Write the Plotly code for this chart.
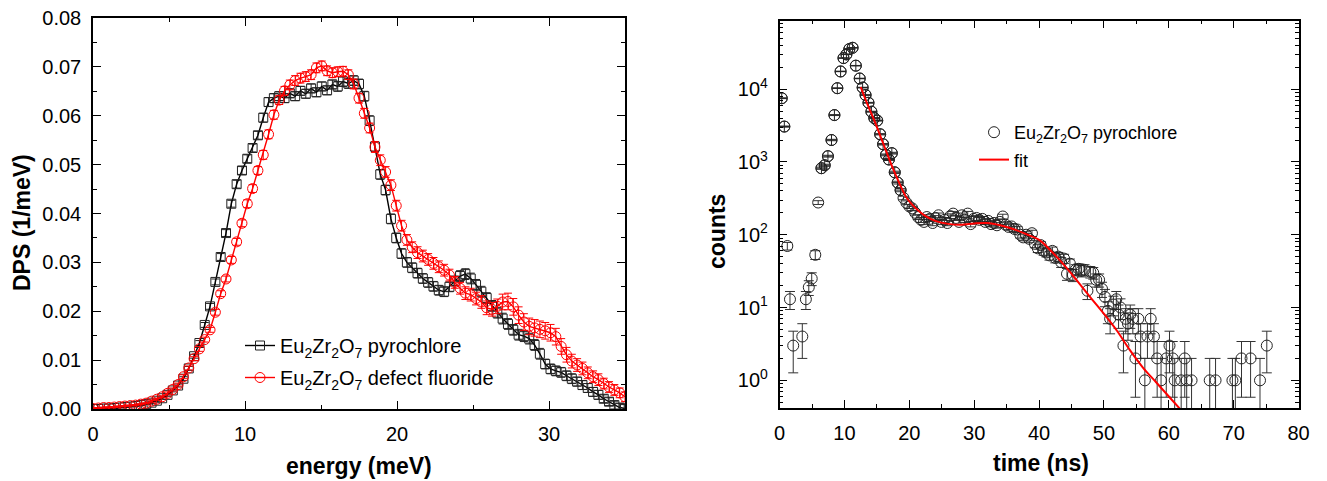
import numpy as np
import plotly.graph_objects as go

# ---------------- Left panel data: DPS vs energy ----------------
energy = [0.0,0.35,0.7,1.05,1.4,1.75,2.1,2.45,2.8,3.15,3.5,3.85,4.2,4.55,4.9,5.25,5.6,5.95,6.3,6.65,
          7.0,7.35,7.7,8.05,8.4,8.75,9.1,9.45,9.8,10.15,10.5,10.85,11.2,11.55,11.9,12.25,12.6,12.95,13.3,13.65,
          14.0,14.35,14.7,15.05,15.4,15.75,16.1,16.45,16.8,17.15,17.5,17.85,18.2,18.55,18.9,19.25,19.6,19.95,20.3,20.65,
          21.0,21.35,21.7,22.05,22.4,22.75,23.1,23.45,23.8,24.15,24.5,24.85,25.2,25.55,25.9,26.25,26.6,26.95,27.3,27.65,
          28.0,28.35,28.7,29.05,29.4,29.75,30.1,30.45,30.8,31.15,31.5,31.85,32.2,32.55,32.9,33.25,33.6,33.95,34.3,34.65,35.0]

dps_pyrochlore = [0.0000,0.0000,0.0001,0.0001,0.0002,0.0003,0.0004,0.0005,0.0006,0.0008,
                  0.0010,0.0013,0.0017,0.0022,0.0029,0.0038,0.0048,0.0062,0.0083,0.0108,
                  0.0135,0.0172,0.0210,0.0260,0.0311,0.0360,0.0420,0.0460,0.0488,0.0512,
                  0.0534,0.0560,0.0596,0.0628,0.0636,0.0640,0.0636,0.0646,0.0640,0.0651,
                  0.0645,0.0656,0.0648,0.0660,0.0652,0.0664,0.0660,0.0670,0.0666,0.0672,
                  0.0665,0.0640,0.0590,0.0537,0.0480,0.0448,0.0389,0.0350,0.0318,0.0300,
                  0.0289,0.0278,0.0267,0.0259,0.0251,0.0243,0.0240,0.0250,0.0262,0.0272,
                  0.0276,0.0267,0.0254,0.0240,0.0227,0.0211,0.0197,0.0185,0.0174,0.0162,
                  0.0152,0.0149,0.0144,0.0131,0.0113,0.0092,0.0082,0.0078,0.0075,0.0068,
                  0.0062,0.0056,0.0049,0.0043,0.0035,0.0029,0.0021,0.0015,0.0008,0.0003,0.0001]

err_pyrochlore = [0.0001,0.0001,0.0001,0.0001,0.0001,0.0001,0.0001,0.0001,0.0001,0.0001,
                  0.0001,0.0002,0.0002,0.0002,0.0003,0.0003,0.0003,0.0004,0.0004,0.0004,
                  0.0005,0.0005,0.0006,0.0006,0.0007,0.0007,0.0007,0.0008,0.0008,0.0008,
                  0.0008,0.0008,0.0009,0.0009,0.0009,0.0009,0.0009,0.0009,0.0009,0.0009,
                  0.0009,0.0009,0.0009,0.0009,0.0009,0.0009,0.0010,0.0010,0.0010,0.0010,
                  0.0010,0.0010,0.0010,0.0010,0.0010,0.0010,0.0010,0.0010,0.0010,0.0010,
                  0.0010,0.0010,0.0010,0.0010,0.0010,0.0010,0.0010,0.0010,0.0010,0.0011,
                  0.0011,0.0011,0.0011,0.0011,0.0011,0.0011,0.0011,0.0011,0.0011,0.0011,
                  0.0011,0.0011,0.0011,0.0011,0.0011,0.0010,0.0010,0.0010,0.0010,0.0010,
                  0.0010,0.0009,0.0009,0.0009,0.0009,0.0009,0.0008,0.0008,0.0008,0.0008,0.0008]

dps_fluoride = [0.0001,0.0002,0.0003,0.0003,0.0004,0.0005,0.0006,0.0007,0.0008,0.0010,
                0.0012,0.0016,0.0020,0.0025,0.0032,0.0040,0.0050,0.0066,0.0084,0.0103,
                0.0123,0.0142,0.0162,0.0198,0.0236,0.0266,0.0305,0.0342,0.0380,0.0420,
                0.0451,0.0488,0.0520,0.0562,0.0602,0.0632,0.0651,0.0663,0.0672,0.0677,
                0.0680,0.0684,0.0698,0.0702,0.0692,0.0688,0.0690,0.0691,0.0684,0.0665,
                0.0636,0.0605,0.0575,0.0536,0.0509,0.0485,0.0458,0.0416,0.0375,0.0346,
                0.0331,0.0320,0.0313,0.0306,0.0298,0.0291,0.0284,0.0274,0.0259,0.0247,
                0.0237,0.0234,0.0226,0.0219,0.0207,0.0204,0.0210,0.0219,0.0220,0.0209,
                0.0192,0.0178,0.0169,0.0166,0.0163,0.0160,0.0156,0.0148,0.0128,0.0111,
                0.0098,0.0090,0.0083,0.0074,0.0066,0.0060,0.0052,0.0045,0.0039,0.0033,0.0025]

err_fluoride = [0.0001,0.0001,0.0001,0.0001,0.0001,0.0001,0.0001,0.0001,0.0001,0.0001,
                0.0001,0.0002,0.0002,0.0002,0.0003,0.0003,0.0003,0.0004,0.0004,0.0004,
                0.0005,0.0005,0.0005,0.0006,0.0006,0.0006,0.0007,0.0007,0.0007,0.0008,
                0.0008,0.0008,0.0009,0.0009,0.0009,0.0009,0.0009,0.0010,0.0010,0.0010,
                0.0010,0.0010,0.0010,0.0010,0.0010,0.0010,0.0010,0.0010,0.0010,0.0010,
                0.0010,0.0010,0.0010,0.0011,0.0011,0.0011,0.0011,0.0011,0.0011,0.0011,
                0.0011,0.0012,0.0012,0.0012,0.0012,0.0012,0.0012,0.0012,0.0012,0.0012,
                0.0013,0.0013,0.0013,0.0013,0.0014,0.0014,0.0015,0.0016,0.0017,0.0017,
                0.0017,0.0017,0.0017,0.0017,0.0017,0.0017,0.0017,0.0017,0.0016,0.0015,
                0.0014,0.0013,0.0013,0.0012,0.0012,0.0012,0.0011,0.0011,0.0011,0.0010,0.0010]

# ---------------- Right panel data: counts vs time ----------------
time_ns = [0.33,0.73,1.19,1.60,2.10,3.50,4.05,4.50,4.95,5.50,5.95,6.45,6.95,7.45,8.00,8.45,8.90,9.40,9.85,10.30,
           10.75,11.25,11.75,12.35,12.80,13.25,13.70,14.15,14.60,15.05,15.50,15.95,16.40,16.85,17.30,17.75,18.20,18.65,19.10,19.55,
           20.00,20.45,20.90,21.35,21.80,22.25,22.70,23.15,23.60,24.05,24.50,24.95,25.40,25.85,26.30,26.75,27.20,27.65,28.10,28.55,
           29.00,29.45,29.90,30.35,30.80,31.25,31.70,32.15,32.60,33.05,33.50,33.95,34.40,34.85,35.30,35.75,36.20,36.65,37.10,37.55,
           38.00,38.45,38.90,39.35,39.80,40.25,40.70,41.15,41.60,42.05,42.50,42.95,43.40,43.85,44.30,44.75,45.20,45.65,46.10,46.55,
           47.00,47.45,47.90,48.35,48.80,49.25,49.70,50.15,50.60,50.95,51.45,51.90,52.25,52.55,53.00,53.35,53.70,54.05,54.45,54.85,
           55.30,55.65,56.30,56.70,57.20,57.70,58.20,58.80,59.60,60.10,60.60,60.90,61.90,62.45,62.75,63.50,66.30,67.20,69.80,70.25,
           71.20,72.60,74.05,75.10]

counts = [7500,3060,70,13,3,4,13,19,25,53,277,820,900,1200,2000,4400,10300,17500,26700,30000,
          35500,37000,21000,14000,10500,8300,6500,4900,4000,3700,2400,1750,1250,1080,1320,720,520,410,320,275,
          245,230,200,175,160,150,175,165,145,170,185,150,160,145,180,195,170,150,185,160,
          195,140,165,170,160,165,150,155,140,145,135,150,178,137,128,130,120,118,100,92,
          100,88,105,75,65,72,60,57,52,60,48,50,42,47,29,40,28,33,34,32,
          33,17,31,30,24,24,18,14,9,7,11,13,8,10,3,7,6,8,7,2,
          7,4,1,4,7,4,2,1,2,3,2,1,1,2,1,1,1,1,1,1,
          2,2,1,3]

fit_time = [12.5,13.5,14.5,15.5,16.5,17.5,18.5,19.5,20.5,21.5,22.5,24.0,26.0,28.0,30.0,32.0,34.0,36.0,
            38.0,40.0,42.0,44.0,46.0,48.0,50.0,52.0,54.0,56.0,58.0,60.0,62.0]
fit_counts = [10700,6300,3900,2300,1350,800,500,330,255,210,180,155,141,137,143,145,135,120,
              102,85,58,37,22.5,13.5,8.2,4.8,2.6,1.5,0.95,0.6,0.38]

legend_pyro = "Eu<sub>2</sub>Zr<sub>2</sub>O<sub>7</sub> pyrochlore"
legend_fluo = "Eu<sub>2</sub>Zr<sub>2</sub>O<sub>7</sub> defect fluoride"

W, H = 1327, 481
FONT = "Liberation Sans, Arial, sans-serif"

fig = go.Figure()

fig.add_trace(go.Scatter(
    x=energy, y=dps_pyrochlore, mode="lines+markers", name=legend_pyro,
    line=dict(color="black", width=1.4),
    marker=dict(symbol="square-open", size=9, color="#222", line=dict(width=1)),
    error_y=dict(type="data", array=err_pyrochlore, color="#222", thickness=1, width=4),
    xaxis="x", yaxis="y", legend="legend", legendgroup="a"))

fig.add_trace(go.Scatter(
    x=energy, y=dps_fluoride, mode="lines+markers", name=legend_fluo,
    line=dict(color="red", width=1.4),
    marker=dict(symbol="circle-open", size=10, color="red", line=dict(width=1)),
    error_y=dict(type="data", array=err_fluoride, color="red", thickness=1, width=4),
    xaxis="x", yaxis="y", legend="legend", legendgroup="b"))

counts_arr = np.array(counts, dtype=float)
time_arr = np.array(time_ns, dtype=float)
fig.add_trace(go.Scatter(
    x=time_arr, y=counts_arr, mode="markers", name=legend_pyro,
    marker=dict(symbol="circle-open", size=11, color="#222", line=dict(width=1)),
    error_y=dict(type="data", array=np.sqrt(counts_arr), color="#333", thickness=1, width=5),
    xaxis="x2", yaxis="y2", legend="legend2", legendgroup="c"))

hi = counts_arr >= 400
fig.add_trace(go.Scatter(
    x=time_arr[hi], y=counts_arr[hi], mode="markers", showlegend=False,
    marker=dict(symbol="circle-cross-open", size=11, color="#222", line=dict(width=1)),
    xaxis="x2", yaxis="y2", hoverinfo="skip"))

fig.add_trace(go.Scatter(
    x=fit_time, y=fit_counts, mode="lines", name="fit",
    line=dict(color="red", width=2, shape="spline"),
    xaxis="x2", yaxis="y2", legend="legend2", legendgroup="d"))

axis_common = dict(showline=True, linecolor="black", linewidth=1.5, mirror="ticks",
                   ticks="inside", ticklen=8, tickwidth=1.2, tickcolor="black",
                   showgrid=False, zeroline=False, automargin=False,
                   tickfont=dict(family=FONT, size=20, color="black"))

minor_log = [v * 10**d for d in range(-1, 5) for v in range(2, 10)]
minor_log = [v for v in minor_log if 0.4 < v < 90000]

fig.update_layout(
    width=W, height=H, autosize=False,
    margin=dict(l=0, r=0, t=0, b=0, autoexpand=False),
    paper_bgcolor="white", plot_bgcolor="white",
    font=dict(family=FONT, color="black"),
    xaxis=dict(domain=[93/W, 625/W], range=[0, 35], tick0=0, dtick=10, anchor="y",
               minor=dict(ticks="inside", ticklen=4, dtick=5, tickcolor="black"),
               ticklabelstandoff=6, **axis_common),
    yaxis=dict(domain=[1-409/H, 1-18/H], range=[0, 0.08], tick0=0, dtick=0.01, tickformat=".2f",
               anchor="x", minor=dict(ticks="inside", ticklen=4, dtick=0.005, tickcolor="black"),
               ticklabelstandoff=6, **axis_common),
    xaxis2=dict(domain=[779.6/W, 1298.6/W], range=[0, 80], tick0=0, dtick=10, anchor="y2",
                minor=dict(ticks="inside", ticklen=4, dtick=5, tickcolor="black"),
                ticklabelstandoff=6, **axis_common),
    yaxis2=dict(domain=[1-408/H, 1-20.7/H], type="log", range=[-0.38, 4.94], anchor="x2",
                tickmode="array", tickvals=[1, 10, 100, 1000, 10000],
                ticktext=["10<sup>0</sup>", "10<sup>1</sup>", "10<sup>2</sup>", "10<sup>3</sup>", "10<sup>4</sup>"],
                minor=dict(ticks="inside", ticklen=4, tickmode="array", tickvals=minor_log, tickcolor="black"),
                ticklabelstandoff=6, **axis_common),
    legend=dict(x=240/W, y=1-326/H, xanchor="left", yanchor="top", bgcolor="rgba(0,0,0,0)",
                font=dict(family=FONT, size=20, color="black"), tracegroupgap=3),
    legend2=dict(x=974/W, y=1-114/H, xanchor="left", yanchor="top", bgcolor="rgba(0,0,0,0)",
                 font=dict(family=FONT, size=18, color="black"), tracegroupgap=1),
    showlegend=True,
)

title_font = dict(family=FONT, size=23, color="black")
fig.add_annotation(text="<b>energy (meV)</b>", x=359/W, y=1-466/H, xref="paper", yref="paper",
                   showarrow=False, font=title_font, xanchor="center", yanchor="middle")
fig.add_annotation(text="<b>DPS (1/meV)</b>", x=22/W, y=1-223/H, xref="paper", yref="paper",
                   showarrow=False, font=title_font, textangle=-90, xanchor="center", yanchor="middle")
fig.add_annotation(text="<b>time (ns)</b>", x=1041/W, y=1-463/H, xref="paper", yref="paper",
                   showarrow=False, font=title_font, xanchor="center", yanchor="middle")
fig.add_annotation(text="<b>counts</b>", x=717/W, y=1-232/H, xref="paper", yref="paper",
                   showarrow=False, font=title_font, textangle=-90, xanchor="center", yanchor="middle")

fig.write_html("out.html", config={"displayModeBar": False},
               post_script="document.body.style.margin='0';")
